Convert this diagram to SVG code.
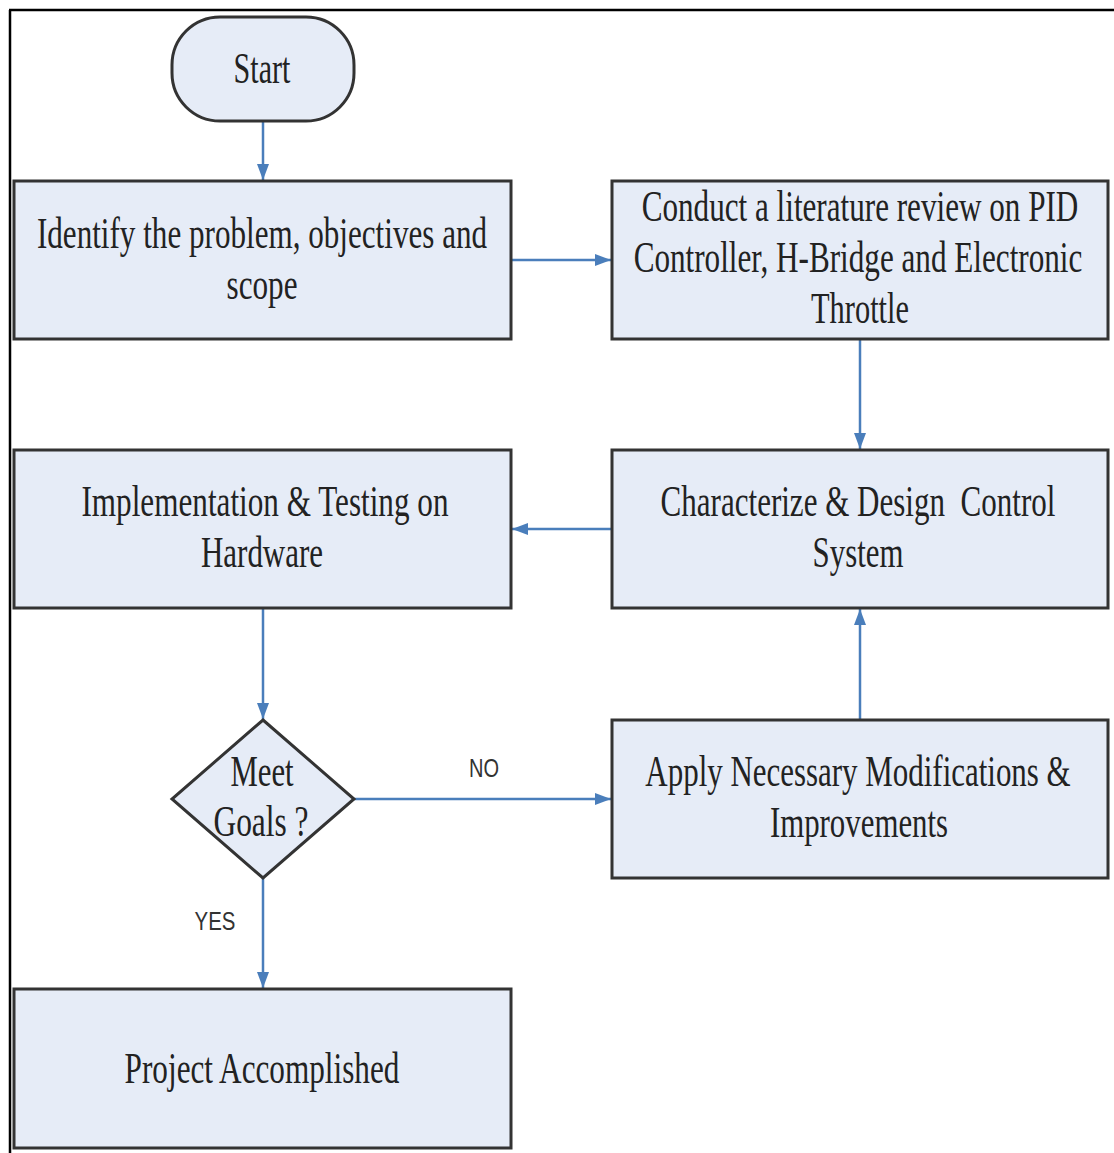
<svg xmlns="http://www.w3.org/2000/svg" width="1114" height="1153" viewBox="0 0 1114 1153">
<style>
.node{fill:#e6ecf7;stroke:#333;stroke-width:3}
.t{font-family:"Liberation Serif","Times New Roman",serif;font-size:44px;fill:#222;text-anchor:middle}
.lbl{font-family:"Liberation Sans",Arial,sans-serif;font-size:26px;fill:#333;text-anchor:middle}
.c{stroke:#4a7ebb;stroke-width:2.5;fill:none;marker-end:url(#ah)}
</style>
<defs>
<marker id="ah" viewBox="0 0 16 12" refX="16" refY="6" markerWidth="16" markerHeight="12" markerUnits="userSpaceOnUse" orient="auto">
<path d="M0,0 L16,6 L0,12 z" fill="#4a7ebb"/>
</marker>
</defs>
<rect width="1114" height="1153" fill="#fff"/>
<g id="frame" stroke="#000" stroke-width="2.5">
<line x1="9" y1="10" x2="1114" y2="10"/>
<line x1="10" y1="10" x2="10" y2="1153"/>
</g>
<g id="connectors">
<line class="c" x1="263" y1="122" x2="263" y2="180"/>
<line class="c" x1="511" y1="260" x2="611" y2="260"/>
<line class="c" x1="860" y1="340" x2="860" y2="449"/>
<line class="c" x1="612" y1="529" x2="512" y2="529"/>
<line class="c" x1="263" y1="609" x2="263" y2="719"/>
<line class="c" x1="354" y1="799" x2="611" y2="799"/>
<line class="c" x1="860" y1="720" x2="860" y2="609"/>
<line class="c" x1="263" y1="878" x2="263" y2="988"/>
<text class="lbl" transform="translate(484,777) scale(0.77,1)" textLength="39" lengthAdjust="spacingAndGlyphs">NO</text>
<text class="lbl" transform="translate(215,930) scale(0.77,1)" textLength="53" lengthAdjust="spacingAndGlyphs">YES</text>
</g>
<g id="start">
<rect class="node" x="172" y="17" width="182" height="104" rx="48" ry="48"/>
<text class="t" transform="translate(262,83) scale(0.71,1)" textLength="80" lengthAdjust="spacingAndGlyphs">Start</text>
</g>
<g id="identify">
<rect class="node" x="14" y="181" width="497" height="158"/>
<text class="t" transform="translate(262,248) scale(0.71,1)" textLength="634" lengthAdjust="spacingAndGlyphs">Identify the problem, objectives and</text>
<text class="t" transform="translate(262,299) scale(0.71,1)" textLength="100" lengthAdjust="spacingAndGlyphs">scope</text>
</g>
<g id="literature">
<rect class="node" x="612" y="181" width="496" height="158"/>
<text class="t" transform="translate(860,221) scale(0.71,1)" textLength="615" lengthAdjust="spacingAndGlyphs">Conduct a literature review on PID</text>
<text class="t" transform="translate(858,272) scale(0.71,1)" textLength="632" lengthAdjust="spacingAndGlyphs">Controller, H-Bridge and Electronic</text>
<text class="t" transform="translate(860,323) scale(0.71,1)" textLength="138" lengthAdjust="spacingAndGlyphs">Throttle</text>
</g>
<g id="implementation">
<rect class="node" x="14" y="450" width="497" height="158"/>
<text class="t" transform="translate(265,516) scale(0.71,1)" textLength="517" lengthAdjust="spacingAndGlyphs">Implementation &amp; Testing on</text>
<text class="t" transform="translate(262,567) scale(0.71,1)" textLength="172" lengthAdjust="spacingAndGlyphs">Hardware</text>
</g>
<g id="characterize">
<rect class="node" x="612" y="450" width="496" height="158"/>
<text class="t" transform="translate(858,516) scale(0.71,1)" textLength="556" lengthAdjust="spacingAndGlyphs" xml:space="preserve">Characterize &amp; Design  Control</text>
<text class="t" transform="translate(858,567) scale(0.71,1)" textLength="128" lengthAdjust="spacingAndGlyphs">System</text>
</g>
<g id="decision">
<polygon class="node" points="263,720 354,799 263,878 172,799"/>
<text class="t" transform="translate(262,786) scale(0.71,1)" textLength="89" lengthAdjust="spacingAndGlyphs">Meet</text>
<text class="t" transform="translate(261,836) scale(0.71,1)" textLength="134" lengthAdjust="spacingAndGlyphs">Goals ?</text>
</g>
<g id="modifications">
<rect class="node" x="612" y="720" width="496" height="158"/>
<text class="t" transform="translate(858,786) scale(0.71,1)" textLength="599" lengthAdjust="spacingAndGlyphs">Apply Necessary Modifications &amp;</text>
<text class="t" transform="translate(859,837) scale(0.71,1)" textLength="251" lengthAdjust="spacingAndGlyphs">Improvements</text>
</g>
<g id="accomplished">
<rect class="node" x="14" y="989" width="497" height="159"/>
<text class="t" transform="translate(262,1083) scale(0.71,1)" textLength="387" lengthAdjust="spacingAndGlyphs">Project Accomplished</text>
</g>
</svg>
